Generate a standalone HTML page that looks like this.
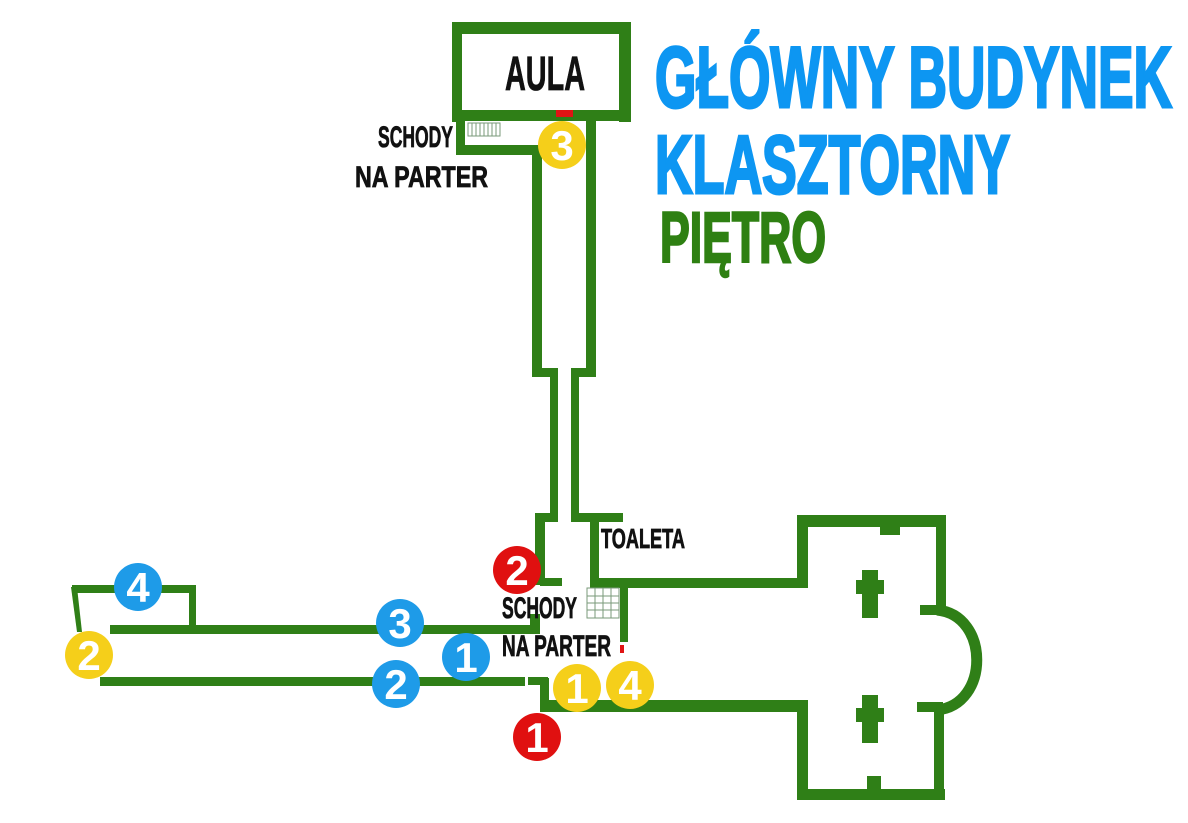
<!DOCTYPE html>
<html><head><meta charset="utf-8"><style>
html,body{margin:0;padding:0;background:#fff;}
svg{display:block;}
text{font-family:"Liberation Sans Narrow","Liberation Sans",sans-serif;font-weight:bold;}
</style></head><body>
<svg width="1188" height="823" viewBox="0 0 1188 823" xmlns="http://www.w3.org/2000/svg">
<g fill="#2f7f17">
<rect x="452" y="22" width="179" height="12"/>
<rect x="452" y="22" width="10" height="100"/>
<rect x="619" y="22" width="12" height="100"/>
<rect x="452" y="110" width="179" height="11"/>
<rect x="456" y="110" width="9" height="45"/>
<rect x="456" y="145" width="86" height="10"/>
<rect x="532" y="145" width="10" height="232"/>
<rect x="586" y="118" width="10" height="259"/>
<rect x="532" y="368" width="26" height="9"/>
<rect x="571" y="368" width="25" height="9"/>
<rect x="550" y="368" width="8" height="152"/>
<rect x="571" y="368" width="8" height="152"/>
<rect x="535" y="513" width="23" height="9"/>
<rect x="571" y="513" width="52" height="9"/>
<rect x="535" y="513" width="10" height="72"/>
<rect x="590" y="513" width="9" height="72"/>
<rect x="540" y="578" width="22" height="8"/>
<rect x="590" y="578" width="218" height="10"/>
<rect x="620" y="578" width="8" height="64"/>
<rect x="540" y="700" width="268" height="12"/>
<rect x="540" y="678" width="9" height="34"/>
<rect x="620" y="678" width="8" height="30"/>
<rect x="110" y="625" width="430" height="9"/>
<rect x="530" y="614" width="10" height="20"/>
<rect x="100" y="677" width="425" height="9"/>
<rect x="528" y="677" width="20" height="8"/>
<rect x="72" y="585" width="124" height="8"/>
<rect x="189" y="585" width="7" height="48"/>
<polygon points="71,587 77,587 82,632 77,632"/>
<rect x="797" y="515" width="11" height="72"/>
<rect x="797" y="515" width="148" height="12"/>
<rect x="936" y="515" width="10" height="97"/>
<rect x="797" y="705" width="11" height="95"/>
<rect x="797" y="789" width="148" height="11"/>
<rect x="934" y="705" width="10" height="95"/>
<rect x="920" y="605" width="26" height="10"/>
<rect x="917" y="702" width="26" height="10"/>
<rect x="862" y="570" width="16" height="48"/>
<rect x="856" y="580" width="28" height="14"/>
<rect x="862" y="695" width="16" height="48"/>
<rect x="856" y="708" width="28" height="14"/>
<rect x="867" y="776" width="14" height="20"/>
<rect x="880" y="515" width="20" height="20"/>
</g>
<path d="M937,610 C990,615 990,705 937,710" fill="none" stroke="#2f7f17" stroke-width="11"/>
<g stroke="#7a9a7a" stroke-width="1" fill="none">
<rect x="468" y="123" width="32" height="13"/>
<path d="M472,123v13M476,123v13M480,123v13M484,123v13M488,123v13M492,123v13M496,123v13"/>
<rect x="587" y="588" width="32" height="30"/>
<path d="M587,596h32M587,603h32M587,610h32M595,588v30M603,588v30M611,588v30"/>
</g>
<rect x="556" y="110" width="17" height="7" fill="#e01414"/>
<rect x="620" y="645" width="4" height="8" fill="#e01414"/>
<g fill="#111" stroke="#111" stroke-width="0.8">
<text x="505" y="90" font-size="48" textLength="80" lengthAdjust="spacingAndGlyphs">AULA</text>
<text x="378" y="147" font-size="30" textLength="75" lengthAdjust="spacingAndGlyphs">SCHODY</text>
<text x="355" y="187" font-size="30" textLength="133" lengthAdjust="spacingAndGlyphs">NA PARTER</text>
<text x="601" y="548" font-size="28" textLength="84" lengthAdjust="spacingAndGlyphs">TOALETA</text>
<text x="502" y="618" font-size="30" textLength="75" lengthAdjust="spacingAndGlyphs">SCHODY</text>
<text x="502" y="656" font-size="30" textLength="109" lengthAdjust="spacingAndGlyphs">NA PARTER</text>
</g>
<text x="655" y="107" font-size="86" fill="#0d96f2" stroke="#0d96f2" stroke-width="3" textLength="517" lengthAdjust="spacingAndGlyphs">GŁÓWNY BUDYNEK</text>
<text x="655" y="193" font-size="83" fill="#0d96f2" stroke="#0d96f2" stroke-width="3" textLength="355" lengthAdjust="spacingAndGlyphs">KLASZTORNY</text>
<text x="660" y="262" font-size="71" fill="#2e8012" stroke="#2e8012" stroke-width="2.5" textLength="166" lengthAdjust="spacingAndGlyphs">PIĘTRO</text>
<g font-size="42" text-anchor="middle" fill="#fff">
<circle cx="562" cy="145" r="24" fill="#f5cf1a"/><text x="562" y="160">3</text>
<circle cx="517" cy="570" r="24" fill="#e01010"/><text x="517" y="585">2</text>
<circle cx="537" cy="737" r="24" fill="#e01010"/><text x="537" y="752">1</text>
<circle cx="577" cy="688" r="24" fill="#f5cf1a"/><text x="577" y="703">1</text>
<circle cx="630" cy="685" r="24" fill="#f5cf1a"/><text x="630" y="700">4</text>
<circle cx="466" cy="657" r="24" fill="#1e9be8"/><text x="466" y="672">1</text>
<circle cx="400" cy="623" r="24" fill="#1e9be8"/><text x="400" y="638">3</text>
<circle cx="396" cy="684" r="24" fill="#1e9be8"/><text x="396" y="699">2</text>
<circle cx="138" cy="587" r="24" fill="#1e9be8"/><text x="138" y="602">4</text>
<circle cx="89" cy="655" r="24" fill="#f5cf1a"/><text x="89" y="670">2</text>
</g>
</svg>
</body></html>
